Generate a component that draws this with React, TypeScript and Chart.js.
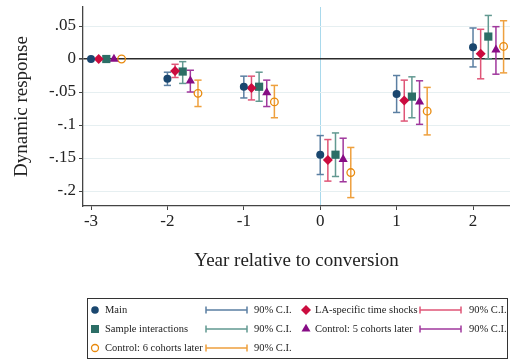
import React, { useEffect, useRef } from 'react';
import { Chart, registerables } from 'chart.js';

Chart.register(...registerables);

const years = [-3, -2, -1, 0, 1, 2];
const xTickValues = [-3, -2, -1, 0, 1, 2];
const yTickValues = [0.05, 0, -0.05, -0.1, -0.15, -0.2];

const seriesNames = [
  'Main',
  'LA-specific time shocks',
  'Sample interactions',
  'Control: 5 cohorts later',
  'Control: 6 cohorts later',
];
const ciLabel = '90% C.I.';
const xTitle = 'Year relative to conversion';
const yTitle = 'Dynamic response';

const mainEst = [0, -0.03, -0.042, -0.145, -0.053, 0.018];
const mainLo = [null, -0.04, -0.059, -0.175, -0.081, -0.012];
const mainHi = [null, -0.02, -0.026, -0.116, -0.025, 0.047];

const laEst = [0, -0.018, -0.044, -0.153, -0.063, 0.008];
const laLo = [null, -0.028, -0.062, -0.185, -0.094, -0.03];
const laHi = [null, -0.008, -0.026, -0.122, -0.032, 0.045];

const sampleEst = [0, -0.019, -0.042, -0.145, -0.057, 0.034];
const sampleLo = [null, -0.037, -0.064, -0.178, -0.089, 0.0];
const sampleHi = [null, -0.004, -0.02, -0.112, -0.027, 0.066];

const c5Est = [0, -0.033, -0.051, -0.152, -0.065, 0.014];
const c5Lo = [null, -0.05, -0.072, -0.186, -0.099, -0.023];
const c5Hi = [null, -0.017, -0.032, -0.12, -0.033, 0.049];

const c6Est = [0, -0.052, -0.065, -0.172, -0.079, 0.019];
const c6Lo = [null, -0.072, -0.089, -0.21, -0.115, -0.021];
const c6Hi = [null, -0.032, -0.04, -0.134, -0.043, 0.058];

const FONT = "'Liberation Serif', 'DejaVu Serif', serif";

type Style = {
  offset: number;
  color: string;
  ci: string;
  shape: string;
  radius: number;
  hollow?: boolean;
};

const styles: Style[] = [
  { offset: 0, color: '#1a476f', ci: '#5b7fa2', shape: 'circle', radius: 4 },
  { offset: 0.1, color: '#cb0c3f', ci: '#df5577', shape: 'rectRot', radius: 5 },
  { offset: 0.2, color: '#2c6e66', ci: '#629991', shape: 'rect', radius: 5.8 },
  { offset: 0.3, color: '#870c85', ci: '#a0389d', shape: 'triangle', radius: 5.3 },
  { offset: 0.4, color: '#e8890c', ci: '#eea03e', shape: 'circle', radius: 3.8, hollow: true },
];

const series = [
  { est: mainEst, lo: mainLo, hi: mainHi },
  { est: laEst, lo: laLo, hi: laHi },
  { est: sampleEst, lo: sampleLo, hi: sampleHi },
  { est: c5Est, lo: c5Lo, hi: c5Hi },
  { est: c6Est, lo: c6Lo, hi: c6Hi },
];

function fmtY(v: number): string {
  if (Math.abs(v) < 1e-9) return '0';
  const s = String(Math.round(v * 1000) / 1000);
  return s.replace(/^(-?)0\./, '$1.');
}

function ciPoints(offset: number, lo: (number | null)[], hi: (number | null)[]) {
  const pts: { x: number; y: number | null }[] = [];
  years.forEach((yr, i) => {
    const l = lo[i];
    const h = hi[i];
    if (l == null || h == null) return;
    pts.push({ x: yr + offset, y: l }, { x: yr + offset, y: h }, { x: yr + offset, y: null });
  });
  return pts;
}

function drawShape(ctx: CanvasRenderingContext2D, st: Style, x: number, y: number) {
  ctx.save();
  ctx.fillStyle = st.color;
  ctx.strokeStyle = st.color;
  ctx.beginPath();
  if (st.shape === 'circle') {
    const r = st.hollow ? 3.5 : 3.8;
    ctx.arc(x, y, r, 0, Math.PI * 2);
    if (st.hollow) {
      ctx.lineWidth = 1.3;
      ctx.stroke();
    } else ctx.fill();
  } else if (st.shape === 'rect') {
    ctx.rect(x - 4, y - 4, 8, 8);
    ctx.fill();
  } else if (st.shape === 'rectRot') {
    const r = 5;
    ctx.moveTo(x, y - r);
    ctx.lineTo(x + r, y);
    ctx.lineTo(x, y + r);
    ctx.lineTo(x - r, y);
    ctx.closePath();
    ctx.fill();
  } else if (st.shape === 'triangle') {
    const r = 5.2;
    ctx.moveTo(x, y - r);
    ctx.lineTo(x + r * 0.866, y + r * 0.5);
    ctx.lineTo(x - r * 0.866, y + r * 0.5);
    ctx.closePath();
    ctx.fill();
  }
  ctx.restore();
}

const legendPlugin = {
  id: 'ciLegend',
  afterDraw(chart: any) {
    const ctx: CanvasRenderingContext2D = chart.ctx;
    ctx.save();
    ctx.strokeStyle = '#333';
    ctx.lineWidth = 1;
    ctx.strokeRect(87.5, 298.5, 420, 60);
    const rows = [310, 329, 348];
    const cols = [
      { mx: 95, tx: 105, l1: 206, l2: 247, cx: 254 },
      { mx: 306, tx: 315, l1: 420, l2: 461, cx: 469 },
    ];
    const layout = [
      [0, 0, 0],
      [1, 0, 1],
      [2, 1, 0],
      [3, 1, 1],
      [4, 2, 0],
    ];
    ctx.font = `10.5px ${FONT}`;
    ctx.textBaseline = 'middle';
    ctx.textAlign = 'left';
    layout.forEach(([si, ri, ci]) => {
      const st = styles[si];
      const y = rows[ri];
      const c = cols[ci];
      drawShape(ctx, st, c.mx, y);
      ctx.fillStyle = '#222';
      ctx.fillText(seriesNames[si], c.tx, y + 0.5);
      ctx.strokeStyle = st.ci;
      ctx.lineWidth = 1.5;
      ctx.beginPath();
      ctx.moveTo(c.l1, y);
      ctx.lineTo(c.l2, y);
      ctx.moveTo(c.l1, y - 3.5);
      ctx.lineTo(c.l1, y + 3.5);
      ctx.moveTo(c.l2, y - 3.5);
      ctx.lineTo(c.l2, y + 3.5);
      ctx.stroke();
      ctx.fillStyle = '#222';
      ctx.fillText(ciLabel, c.cx, y + 0.5);
    });
    ctx.restore();
  },
};

export default function App() {
  const ref = useRef<HTMLCanvasElement | null>(null);

  useEffect(() => {
    const canvas = ref.current;
    if (!canvas) return;

    const ciSets = series.map((s, i) => {
      const st = styles[i];
      return {
        label: seriesNames[i] + ' ' + ciLabel,
        data: ciPoints(st.offset, s.lo, s.hi),
        showLine: true,
        spanGaps: false,
        borderColor: st.ci,
        borderWidth: 1.5,
        pointStyle: 'line',
        pointRadius: 3.6,
        pointHoverRadius: 3.6,
        pointBorderColor: st.ci,
        pointBackgroundColor: st.ci,
        pointBorderWidth: 1.5,
        order: 2,
      };
    });

    const markerSets = series.map((s, i) => {
      const st = styles[i];
      return {
        label: seriesNames[i],
        data: years.map((yr, j) => ({ x: yr + st.offset, y: s.est[j] })),
        showLine: false,
        pointStyle: st.shape,
        pointRadius: st.radius,
        pointHoverRadius: st.radius,
        pointBackgroundColor: st.hollow ? 'rgba(0,0,0,0)' : st.color,
        pointBorderColor: st.color,
        pointBorderWidth: st.hollow ? 1.3 : 0,
        order: 1,
      };
    });

    const chart = new Chart(canvas, {
      type: 'scatter',
      data: { datasets: [...ciSets, ...markerSets] as any },
      options: {
        animation: false,
        responsive: false,
        devicePixelRatio: 1,
        layout: { autoPadding: false, padding: { top: 7, left: 0, right: 0, bottom: 0 } },
        plugins: {
          legend: { display: false },
          tooltip: { enabled: false },
        },
        scales: {
          x: {
            type: 'linear',
            min: -3.105,
            max: 2.484,
            afterBuildTicks: (scale: any) => {
              scale.ticks = xTickValues.map((v) => ({ value: v }));
            },
            afterFit: (scale: any) => {
              scale.height = 154;
              scale.paddingLeft = 0;
              scale.paddingRight = 0;
              scale.paddingTop = 0;
              scale.paddingBottom = 0;
            },
            ticks: {
              font: { family: FONT, size: 17 },
              color: '#222',
              padding: 1,
              maxRotation: 0,
              callback: (v: any) => String(v),
            },
            grid: {
              color: (c: any) => (c.tick && c.tick.value === 0 ? '#a9d9ec' : 'rgba(0,0,0,0)'),
              lineWidth: 1,
              tickColor: '#444',
              tickLength: 4,
            },
            border: { display: true, color: '#444', width: 1.3 },
            title: {
              display: true,
              text: xTitle,
              font: { family: FONT, size: 19 },
              color: '#222',
              padding: { top: 0, bottom: 88 },
            },
          },
          y: {
            type: 'linear',
            min: -0.2227,
            max: 0.0788,
            afterBuildTicks: (scale: any) => {
              scale.ticks = yTickValues.map((v) => ({ value: v }));
            },
            afterFit: (scale: any) => {
              scale.width = 83;
              scale.paddingLeft = 0;
              scale.paddingRight = 0;
              scale.paddingTop = 0;
              scale.paddingBottom = 0;
            },
            ticks: {
              font: { family: FONT, size: 17 },
              color: '#222',
              padding: 3,
              callback: (v: any) => fmtY(Number(v)),
            },
            grid: {
              color: (c: any) => (c.tick && c.tick.value === 0 ? '#2b2b2b' : '#e6eff1'),
              lineWidth: (c: any) => (c.tick && c.tick.value === 0 ? 1.6 : 1),
              tickColor: '#444',
              tickLength: 4,
            },
            border: { display: true, color: '#444', width: 1.3 },
            title: {
              display: true,
              text: yTitle,
              font: { family: FONT, size: 19 },
              color: '#222',
              padding: { top: 10.6, bottom: 0 },
            },
          },
        },
      },
      plugins: [legendPlugin],
    });

    return () => chart.destroy();
  }, []);

  return (
    <div style={{ position: 'fixed', left: 0, top: 0, width: 510, height: 360, background: '#fff' }}>
      <canvas ref={ref} width={510} height={360} style={{ width: 510, height: 360, display: 'block' }} />
    </div>
  );
}
